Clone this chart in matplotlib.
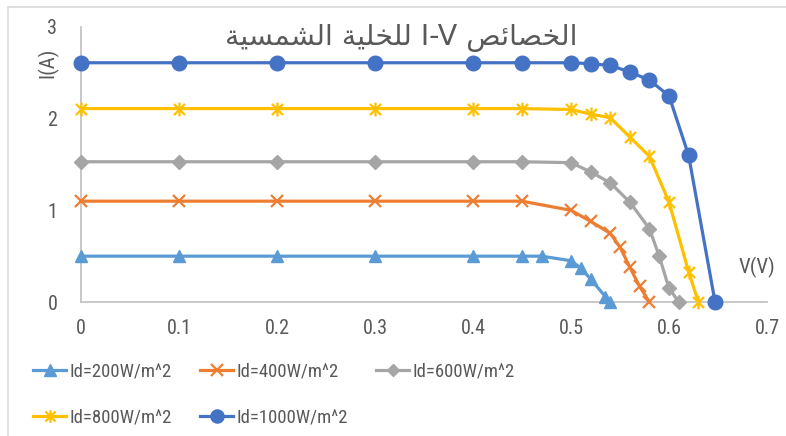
import numpy as np
import matplotlib
matplotlib.use('Agg')
import matplotlib.pyplot as plt
from matplotlib import font_manager
from matplotlib.path import Path
from matplotlib.patches import Rectangle

# Measured I-V data for the solar cell at five irradiance levels
v_200 = [0, 0.1, 0.2, 0.3, 0.4, 0.45, 0.47, 0.5, 0.51, 0.52, 0.535, 0.54]
i_200 = [0.5, 0.5, 0.5, 0.5, 0.5, 0.5, 0.5, 0.45, 0.37, 0.25, 0.06, 0.0]

v_400 = [0, 0.1, 0.2, 0.3, 0.4, 0.45, 0.5, 0.52, 0.54, 0.55, 0.56, 0.57, 0.58]
i_400 = [1.1, 1.1, 1.1, 1.1, 1.1, 1.1, 1.0, 0.88, 0.75, 0.6, 0.38, 0.17, 0.0]

v_600 = [0, 0.1, 0.2, 0.3, 0.4, 0.45, 0.5, 0.52, 0.54, 0.56, 0.58, 0.59, 0.6, 0.61]
i_600 = [1.53, 1.53, 1.53, 1.53, 1.53, 1.53, 1.52, 1.42, 1.3, 1.09, 0.8, 0.5, 0.15, 0.0]

v_800 = [0, 0.1, 0.2, 0.3, 0.4, 0.45, 0.5, 0.52, 0.54, 0.56, 0.58, 0.6, 0.62, 0.63]
i_800 = [2.11, 2.11, 2.11, 2.11, 2.11, 2.11, 2.1, 2.05, 2.01, 1.8, 1.59, 1.09, 0.33, 0.0]

v_1000 = [0, 0.1, 0.2, 0.3, 0.4, 0.45, 0.5, 0.52, 0.54, 0.56, 0.58, 0.6, 0.62, 0.647]
i_1000 = [2.61, 2.61, 2.61, 2.61, 2.61, 2.61, 2.61, 2.6, 2.58, 2.51, 2.42, 2.25, 1.6, 0.0]

labels = ['Id=200W/m^2', 'Id=400W/m^2', 'Id=600W/m^2', 'Id=800W/m^2', 'Id=1000W/m^2']
x_ticks = [0, 0.1, 0.2, 0.3, 0.4, 0.5, 0.6, 0.7]
y_ticks = [0, 1, 2, 3]

# Arabic title written in presentation forms (visual order), Latin part kept as is
w_shamsiya = '\uFE94\uFEF4\uFEB4\uFEE4\uFEB8\uFEDF\uFE8D'
w_lilkhaliya = '\uFE94\uFEF4\uFEE0\uFEA8\uFEE0\uFEDF'
w_khasais = '\uFEBA\uFE8B\uFE8E\uFEBC\uFEA8\uFEDF\uFE8D'
title = w_shamsiya + ' ' + w_lilkhaliya + ' I-V ' + w_khasais

text_col = '#595959'

# pick a narrow sans if one is around, else Lato
names = {f.name for f in font_manager.fontManager.ttflist}
narrow = [n for n in ['Roboto Condensed', 'Liberation Sans Narrow', 'DejaVu Sans Condensed']
          if n in names]
base_font = narrow[0] if narrow else 'Lato'
plt.rcParams['font.family'] = [base_font, 'DejaVu Sans']

# Excel-style star: a cross with a vertical bar through it
star = Path([(-1, -1), (1, 1), (-1, 1), (1, -1), (0, -1.25), (0, 1.25)],
            [Path.MOVETO, Path.LINETO, Path.MOVETO, Path.LINETO, Path.MOVETO, Path.LINETO])

series = [
    (v_200, i_200, '#5B9BD5', '^', 9),
    (v_400, i_400, '#ED7D31', 'x', 9),
    (v_600, i_600, '#A5A5A5', 'D', 7),
    (v_800, i_800, '#FFC000', star, 10),
    (v_1000, i_1000, '#4472C4', 'o', 10.5),
]

fig = plt.figure(figsize=(7.86, 4.36), dpi=100)
ax = fig.add_axes([81 / 786, 1 - 302 / 436, (767 - 81) / 786, (302 - 27) / 436])

# Light frame round the whole chart
fig.patches.append(Rectangle((8 / 786, -0.1), 1.2, 1 - 7 / 436 + 0.1,
                             transform=fig.transFigure, fill=False,
                             edgecolor='#D9D9D9', linewidth=1.2))

handles = []
for (v, i, col, mk, ms), lab in zip(series, labels):
    h, = ax.plot(v, i, color=col, linewidth=2.3, marker=mk, markersize=ms,
                 markeredgewidth=1.6 if mk in ('x', star) else 1.0,
                 markeredgecolor=col, markerfacecolor=col, label=lab,
                 clip_on=False, zorder=3)
    handles.append(h)

ax.set_xlim(0, 0.7)
ax.set_ylim(0, 3)
ax.set_xticks(x_ticks)
ax.set_xticklabels(['0' if t == 0 else f'{t:.1f}' for t in x_ticks])
ax.set_yticks(y_ticks)
ax.tick_params(length=0, labelsize=14.5, colors=text_col, pad=12)
ax.tick_params(axis='y', pad=17)
for s in ['top', 'right']:
    ax.spines[s].set_visible(False)
for s in ['left', 'bottom']:
    ax.spines[s].set_color('#BFBFBF')
    ax.spines[s].set_linewidth(1.2)

fig.text(48 / 786, 1 - 63 / 436, 'I(A)', rotation=90, ha='center', va='center',
         fontsize=15, color=text_col)
fig.text(757 / 786, 1 - 267 / 436, 'V(V)', ha='center', va='center',
         fontsize=15, color=text_col)
fig.text(401 / 786, 1 - 38 / 436, title, ha='center', va='center',
         fontsize=20.5, color=text_col, family=['DejaVu Sans'])

# Legend filled row by row like the spreadsheet version
order = [0, 3, 1, 4, 2]
fig.legend([handles[k] for k in order], [labels[k] for k in order],
           ncol=3, loc='upper left', bbox_to_anchor=(20 / 786, 1 - 349 / 436),
           frameon=False, fontsize=13.5, labelcolor=text_col,
           handlelength=1.75, handletextpad=0.2, columnspacing=1.5,
           labelspacing=1.5, borderpad=0.2, markerscale=0.9)

fig.savefig('out.png', dpi=100)
